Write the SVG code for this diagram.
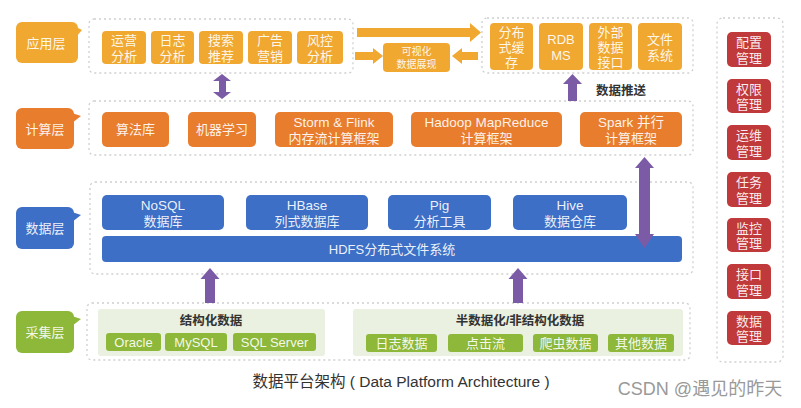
<svg xmlns="http://www.w3.org/2000/svg" width="801" height="408" viewBox="0 0 801 408">
<style>
text{font-family:"Liberation Sans","Noto Sans CJK SC",sans-serif;text-anchor:middle;dominant-baseline:central}
.c{fill:#fff;stroke:#cfcfcf;stroke-width:1.3;stroke-dasharray:2 3}
.ap{fill:#F0A830}
.cp{fill:#E87D2E}
.dt{fill:#3D6FC6}
.gr{fill:#8DB83A}
.rd{fill:#C0393B}
.pn{fill:#EAF1E0}
.pu{fill:#7B5BA6}
.t{fill:#fff;fill-opacity:0.92;font-size:13px}
.ts{fill:#fff;fill-opacity:0.92;font-size:10px}
.tl{font-size:13.5px}
.th{fill:#333;font-size:12.5px;font-weight:bold}
</style>
<rect width="801" height="408" fill="#fff"/>

<!-- containers -->
<g id="containers">
<rect class="c" x="89" y="19" width="264" height="54" rx="5"/>
<rect class="c" x="482" y="18" width="211" height="55" rx="5"/>
<rect class="c" x="89" y="101" width="604" height="54" rx="5"/>
<rect class="c" x="90" y="182" width="603" height="92" rx="5"/>
<rect class="c" x="87" y="303" width="603" height="57" rx="5"/>
<rect class="c" x="717" y="18" width="66" height="344" rx="6"/>
</g>

<!-- layer labels -->
<g id="label-app"><rect class="ap" x="16" y="22" width="62" height="41" rx="6"/><path class="ap" d="M76 27 L82 30 L76 37 Z"/><text class="t" x="46" y="43">应用层</text></g>
<g id="label-compute"><rect class="cp" x="16" y="108" width="58" height="41" rx="6"/><path class="cp" d="M72 113 L81 116 L72 123 Z"/><text class="t" x="45" y="129">计算层</text></g>
<g id="label-data"><rect class="dt" x="16" y="207" width="58" height="42" rx="6"/><path class="dt" d="M72 212 L81 215 L72 222 Z"/><text class="t" x="45" y="228">数据层</text></g>
<g id="label-collect"><rect class="gr" x="16" y="311" width="58" height="42" rx="6"/><path class="gr" d="M72 316 L81 319 L72 326 Z"/><text class="t" x="45" y="332">采集层</text></g>

<!-- application -->
<g id="app-yunying"><rect class="ap" x="102" y="31" width="44" height="33" rx="4"/><text class="t"><tspan x="124" y="40">运营</tspan><tspan x="124" y="55.5">分析</tspan></text></g>
<g id="app-rizhi"><rect class="ap" x="151" y="31" width="43" height="33" rx="4"/><text class="t"><tspan x="172.5" y="40">日志</tspan><tspan x="172.5" y="55.5">分析</tspan></text></g>
<g id="app-sousuo"><rect class="ap" x="199" y="31" width="44" height="33" rx="4"/><text class="t"><tspan x="221" y="40">搜索</tspan><tspan x="221" y="55.5">推荐</tspan></text></g>
<g id="app-guanggao"><rect class="ap" x="248" y="31" width="44" height="33" rx="4"/><text class="t"><tspan x="270" y="40">广告</tspan><tspan x="270" y="55.5">营销</tspan></text></g>
<g id="app-fengkong"><rect class="ap" x="297" y="31" width="46" height="33" rx="4"/><text class="t"><tspan x="320" y="40">风控</tspan><tspan x="320" y="55.5">分析</tspan></text></g>
<g id="app-visual"><rect class="ap" x="383" y="43" width="67" height="29" rx="4"/><text class="ts"><tspan x="416.5" y="51">可视化</tspan><tspan x="416.5" y="63.5">数据展现</tspan></text></g>

<g id="store-cache"><rect class="ap" x="490" y="23" width="43" height="47" rx="4"/><text class="t"><tspan x="511.5" y="32">分布</tspan><tspan x="511.5" y="47">式缓</tspan><tspan x="511.5" y="62">存</tspan></text></g>
<g id="store-rdbms"><rect class="ap" x="539" y="23" width="44" height="47" rx="4"/><text class="t"><tspan x="561" y="39">RDB</tspan><tspan x="561" y="55">MS</tspan></text></g>
<g id="store-ext"><rect class="ap" x="589" y="23" width="43" height="47" rx="4"/><text class="t"><tspan x="610.5" y="32">外部</tspan><tspan x="610.5" y="47">数据</tspan><tspan x="610.5" y="62">接口</tspan></text></g>
<g id="store-fs"><rect class="ap" x="638" y="23" width="44" height="47" rx="4"/><text class="t"><tspan x="660" y="39">文件</tspan><tspan x="660" y="55">系统</tspan></text></g>

<!-- compute -->
<g id="cmp-algo"><rect class="cp" x="102" y="112" width="67" height="35" rx="5"/><text class="t" x="135.5" y="129.5">算法库</text></g>
<g id="cmp-ml"><rect class="cp" x="188" y="112" width="68" height="35" rx="5"/><text class="t" x="222" y="129.5">机器学习</text></g>
<g id="cmp-storm"><rect class="cp" x="275" y="112" width="118" height="35" rx="5"/><text class="t"><tspan class="tl" x="334" y="122">Storm &amp; Flink</tspan><tspan x="334" y="137.5">内存流计算框架</tspan></text></g>
<g id="cmp-hadoop"><rect class="cp" x="411" y="112" width="151" height="35" rx="5"/><text class="t"><tspan class="tl" x="486.5" y="122">Hadoop MapReduce</tspan><tspan x="486.5" y="137.5">计算框架</tspan></text></g>
<g id="cmp-spark"><rect class="cp" x="580" y="112" width="102" height="35" rx="5"/><text class="t"><tspan class="tl" x="631" y="122">Spark 并行</tspan><tspan x="631" y="137.5">计算框架</tspan></text></g>

<!-- data -->
<g id="dat-nosql"><rect class="dt" x="102" y="195" width="122" height="35" rx="5"/><text class="t"><tspan class="tl" x="163" y="205">NoSQL</tspan><tspan x="163" y="220.5">数据库</tspan></text></g>
<g id="dat-hbase"><rect class="dt" x="246" y="195" width="122" height="35" rx="5"/><text class="t"><tspan class="tl" x="307" y="205">HBase</tspan><tspan x="307" y="220.5">列式数据库</tspan></text></g>
<g id="dat-pig"><rect class="dt" x="388" y="195" width="103" height="35" rx="5"/><text class="t"><tspan class="tl" x="439.5" y="205">Pig</tspan><tspan x="439.5" y="220.5">分析工具</tspan></text></g>
<g id="dat-hive"><rect class="dt" x="513" y="195" width="114" height="35" rx="5"/><text class="t"><tspan class="tl" x="570" y="205">Hive</tspan><tspan x="570" y="220.5">数据仓库</tspan></text></g>
<g id="dat-hdfs"><rect class="dt" x="102" y="236" width="580" height="26" rx="4"/><text class="t" x="392" y="249">HDFS分布式文件系统</text></g>

<!-- collection -->
<g id="col-structured"><rect class="pn" x="98" y="309" width="227" height="47" rx="3"/><text class="th" x="211" y="321">结构化数据</text>
<rect class="gr" x="106" y="333" width="55" height="18" rx="3"/><text class="t" x="133.5" y="342">Oracle</text>
<rect class="gr" x="165" y="333" width="62" height="18" rx="3"/><text class="t" x="196" y="342">MySQL</text>
<rect class="gr" x="233" y="333" width="83" height="18" rx="3"/><text class="t" x="274.5" y="342">SQL Server</text></g>
<g id="col-semi"><rect class="pn" x="353" y="309" width="330" height="47" rx="3"/><text class="th" x="520" y="321">半数据化/非结构化数据</text>
<rect class="gr" x="366" y="334" width="71" height="18" rx="3"/><text class="t" x="401.5" y="343">日志数据</text>
<rect class="gr" x="448" y="334" width="75" height="18" rx="3"/><text class="t" x="485.5" y="343">点击流</text>
<rect class="gr" x="533" y="334" width="65" height="18" rx="3"/><text class="t" x="565.5" y="343">爬虫数据</text>
<rect class="gr" x="608" y="334" width="66" height="18" rx="3"/><text class="t" x="641" y="343">其他数据</text></g>

<!-- management -->
<g id="mg-config"><rect class="rd" x="727" y="32" width="44" height="35" rx="5"/><text class="t"><tspan x="749" y="42">配置</tspan><tspan x="749" y="57.5">管理</tspan></text></g>
<g id="mg-perm"><rect class="rd" x="727" y="79" width="44" height="34" rx="5"/><text class="t"><tspan x="749" y="88.5">权限</tspan><tspan x="749" y="104">管理</tspan></text></g>
<g id="mg-ops"><rect class="rd" x="727" y="125" width="44" height="35" rx="5"/><text class="t"><tspan x="749" y="135">运维</tspan><tspan x="749" y="150.5">管理</tspan></text></g>
<g id="mg-task"><rect class="rd" x="727" y="172" width="44" height="35" rx="5"/><text class="t"><tspan x="749" y="182">任务</tspan><tspan x="749" y="197.5">管理</tspan></text></g>
<g id="mg-mon"><rect class="rd" x="727" y="218" width="44" height="34" rx="5"/><text class="t"><tspan x="749" y="227.5">监控</tspan><tspan x="749" y="243">管理</tspan></text></g>
<g id="mg-api"><rect class="rd" x="727" y="264" width="44" height="35" rx="5"/><text class="t"><tspan x="749" y="274">接口</tspan><tspan x="749" y="289.5">管理</tspan></text></g>
<g id="mg-data"><rect class="rd" x="727" y="311" width="44" height="34" rx="5"/><text class="t"><tspan x="749" y="320.5">数据</tspan><tspan x="749" y="336">管理</tspan></text></g>

<!-- connectors -->
<g id="connectors">
<polygon class="ap" points="357,28 470,28 470,23 481,32.5 470,42 470,37 357,37"/>
<polygon class="ap" points="355,52 373,52 373,48 383,56 373,64 373,60 355,60"/>
<polygon class="ap" points="478,52 462,52 462,48 452,56 462,64 462,60 478,60"/>
<polygon class="pu" points="222,74 231,81 226,81 226,92 231,92 222,99 213,92 219,92 219,81 213,81"/>
<polygon class="pu" points="572.5,74 582,84 577,84 577,101 568,101 568,84 563,84"/>
<polygon class="pu" points="644.5,157 654,168 650,168 650,234 654,234 644.5,248 635,234 639,234 639,168 635,168"/>
<polygon class="pu" points="210,268 219.5,279 215,279 215,303 205,303 205,279 200.5,279"/>
<polygon class="pu" points="518,268 527.5,279 523,279 523,303 513,303 513,279 508.5,279"/>
<text x="621" y="91" style="fill:#333;font-size:12.5px;font-weight:bold">数据推送</text>
</g>

<text x="401" y="381" style="fill:#333;font-size:15.5px">数据平台架构 ( Data Platform Architecture )</text>
<text x="700" y="389" style="fill:#999;font-size:18px">CSDN @遇见的昨天</text>
</svg>
